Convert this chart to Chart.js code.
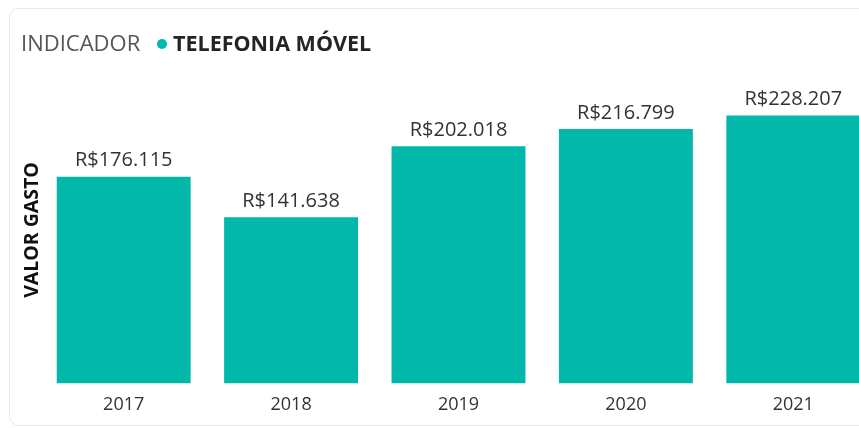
<!DOCTYPE html>
<html><head><meta charset="utf-8">
<script src="https://cdn.jsdelivr.net/npm/chart.js@4"></script>
<style>
html,body{margin:0;padding:0;background:#fff;overflow:hidden;width:859px;height:428px;}
#frame{position:absolute;left:9px;top:8px;width:862px;height:416px;border:1.5px solid #e3eeec;border-radius:10px;}
#wrap{position:absolute;left:0;top:0;width:880px;height:428px;}
</style></head>
<body>
<div id="frame"></div>
<div id="wrap"><canvas id="c" width="880" height="428"></canvas></div>
<script>
const categories = ["2017","2018","2019","2020","2021"];
const values = [176115, 141638, 202018, 216799, 228207];
const seriesName = "TELEFONIA MÓVEL";
const legendTitle = "INDICADOR";
const yTitle = "VALOR GASTO";
const color = "#01B8AA";
const FONT = "'Open Sans', 'Noto Sans', sans-serif";

function fmt(v){ return "R$" + v.toLocaleString('de-DE'); }

const extras = {
  id:'extras',
  afterDatasetsDraw(chart){
    const ctx = chart.ctx;
    const meta = chart.getDatasetMeta(0);
    ctx.save();
    ctx.font = "20px " + FONT;
    ctx.fillStyle = "#333333";
    ctx.textAlign = "center";
    ctx.textBaseline = "bottom";
    meta.data.forEach((b,i)=>{ ctx.fillText(fmt(values[i]), b.x, b.y - 6); });
    // legend
    ctx.textAlign = "left";
    ctx.textBaseline = "middle";
    ctx.font = "22px " + FONT;
    ctx.fillStyle = "#555555";
    ctx.fillText(legendTitle, 21, 45);
    ctx.beginPath(); ctx.fillStyle = color; ctx.arc(162, 44, 5, 0, Math.PI*2); ctx.fill();
    ctx.font = "bold 21.5px " + FONT;
    ctx.fillStyle = "#252423";
    ctx.fillText(seriesName, 173, 45);
    // y title
    ctx.translate(32, 230);
    ctx.rotate(-Math.PI/2);
    ctx.textAlign = "center";
    ctx.font = "bold 19.5px " + FONT;
    ctx.fillStyle = "#111";
    ctx.fillText(yTitle, 0, 0);
    ctx.restore();
  }
};

new Chart(document.getElementById('c'), {
  type:'bar',
  data:{ labels:categories, datasets:[{label:seriesName, data:values, backgroundColor:color, barPercentage:0.8, categoryPercentage:1.0}]},
  options:{
    responsive:false, animation:false,
    layout:{padding:{left:40, right:3, top:90, bottom:9}},
    plugins:{legend:{display:false}, tooltip:{enabled:false}},
    scales:{
      x:{grid:{display:false}, border:{display:false}, ticks:{font:{size:18, family:FONT}, color:"#333", padding:3}},
      y:{display:false, min:0, max:250000}
    }
  },
  plugins:[extras]
});
</script>
</body></html>
